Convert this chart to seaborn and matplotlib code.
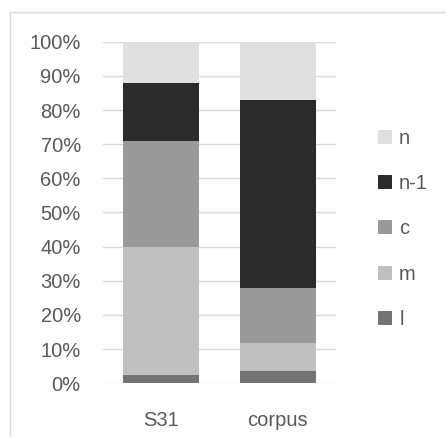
import pandas as pd
import matplotlib
matplotlib.use('Agg')
import matplotlib.pyplot as plt
from matplotlib.lines import Line2D
from matplotlib.ticker import PercentFormatter
import seaborn as sns

# data (shares)
categories = ['S31', 'corpus']
l_vals = [2.5, 3.6]
m_vals = [37.5, 8.3]
c_vals = [31.0, 15.9]
n1_vals = [17.0, 55.1]
n_vals = [12.0, 17.1]

layers = ['l', 'm', 'c', 'n-1', 'n']
colors = {'l': '#737373', 'm': '#bfbfbf', 'c': '#999999', 'n-1': '#2b2b2b', 'n': '#e0e0e0'}

df = pd.DataFrame({'cat': categories, 'l': l_vals, 'm': m_vals, 'c': c_vals,
                   'n-1': n1_vals, 'n': n_vals})
df[layers] = df[layers].div(df[layers].sum(axis=1), axis=0)
cum = df[layers].cumsum(axis=1)

sns.set_theme(style='white')
plt.rcParams['font.family'] = ['Liberation Sans', 'DejaVu Sans']

fig = plt.figure(figsize=(4.46, 4.37), dpi=100)
ax = fig.add_axes([0.2309, 0.1229, 0.5225, 0.7817])

# stacked bars: draw cumulative totals from top layer down
for name in reversed(layers):
    sns.barplot(x=df['cat'], y=cum[name], color=colors[name], width=0.65,
                linewidth=0, saturation=1, label=name, ax=ax, zorder=3)

handles, labels = ax.get_legend_handles_labels()
if ax.get_legend() is not None:
    ax.get_legend().remove()

ax.set_ylim(0, 1)
ax.set_xlim(-0.5, 1.5)
ax.set_yticks([i / 10 for i in range(11)])
ax.yaxis.set_major_formatter(PercentFormatter(1.0, decimals=0))
ax.grid(axis='y', color='#d9d9d9', linewidth=1, zorder=0)
ax.grid(axis='x', visible=False)
for s in ax.spines.values():
    s.set_visible(False)
ax.set_xlabel('')
ax.set_ylabel('')
ax.tick_params(axis='y', length=0, pad=16, labelsize=14.5, labelcolor='#595959')
ax.tick_params(axis='x', length=0, pad=20, labelsize=14.5, labelcolor='#595959')

fig.legend(handles, labels, loc='center left', bbox_to_anchor=(0.8475, 0.476),
           frameon=False, fontsize=14.5, labelcolor='#595959',
           handlelength=0.7, handleheight=0.7, handletextpad=0.35,
           labelspacing=1.3, borderpad=0, borderaxespad=0)

# chart frame (top and left edges)
fig.add_artist(Line2D([10 / 446, 10 / 446], [0, 0.9725], color='#d9d9d9', linewidth=1))
fig.add_artist(Line2D([10 / 446, 1], [0.9725, 0.9725], color='#d9d9d9', linewidth=1))

fig.savefig('out.png', dpi=100)
